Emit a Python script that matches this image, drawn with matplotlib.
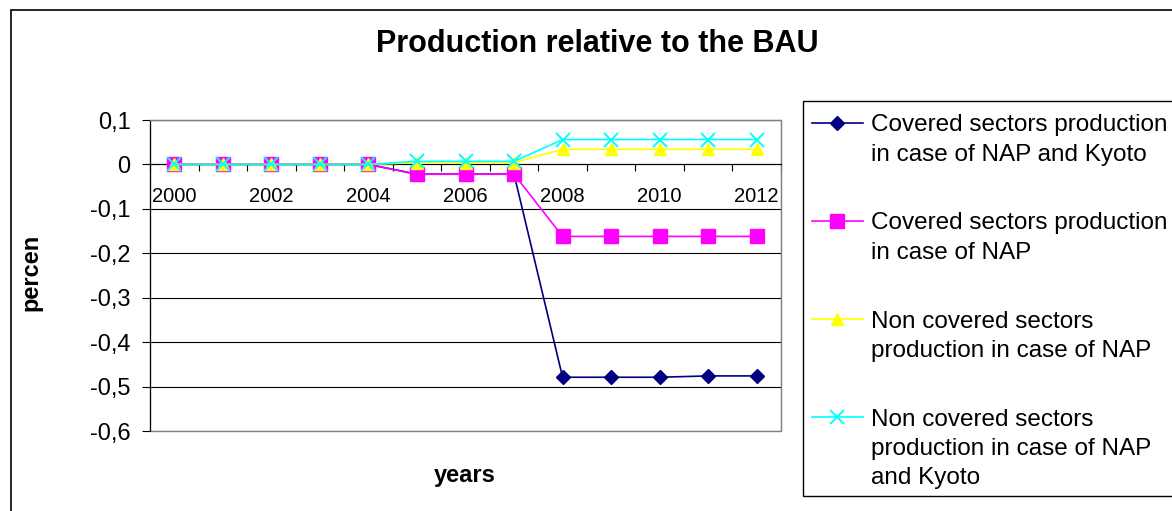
import matplotlib
matplotlib.use("Agg")
import matplotlib.pyplot as plt
from matplotlib.patches import Rectangle
from matplotlib.lines import Line2D
from matplotlib.ticker import FuncFormatter, MultipleLocator

plt.rcParams['font.family'] = ['Liberation Sans', 'DejaVu Sans']

years = list(range(2000, 2013))
covered_nap_kyoto = [0, 0, 0, 0, 0, -0.022, -0.022, -0.022, -0.479, -0.479, -0.479, -0.476, -0.476]
covered_nap = [0, 0, 0, 0, 0, -0.022, -0.022, -0.022, -0.162, -0.162, -0.162, -0.162, -0.162]
noncovered_nap = [0, 0, 0, 0, 0, 0.004, 0.004, 0.004, 0.034, 0.034, 0.034, 0.034, 0.034]
noncovered_nap_kyoto = [0, 0, 0, 0, 0, 0.007, 0.007, 0.007, 0.056, 0.056, 0.056, 0.056, 0.056]

labels = ["Covered sectors production\nin case of NAP and Kyoto",
          "Covered sectors production\nin case of NAP",
          "Non covered sectors\nproduction in case of NAP",
          "Non covered sectors\nproduction in case of NAP\nand Kyoto"]
series = [covered_nap_kyoto, covered_nap, noncovered_nap, noncovered_nap_kyoto]
styles = [dict(color='#000080', marker='D', ms=7, mfc='#000080', mec='#000080'),
          dict(color='#FF00FF', marker='s', ms=10, mfc='#FF00FF', mec='#FF00FF'),
          dict(color='#FFFF00', marker='^', ms=9, mfc='#FFFF00', mec='#FFFF00'),
          dict(color='#00FFFF', marker='x', ms=10, mew=1.4)]

W, H = 1172, 511
fig = plt.figure(figsize=(W / 100, H / 100), dpi=100)

def px(x, y):
    return x / W, 1 - y / H

l, t = px(150, 120)
r, b = px(781, 431)
ax = fig.add_axes([l, b, r - l, t - b])

x = list(range(len(years)))
for i, (vals, st) in enumerate(zip(series, styles)):
    ax.plot(x, vals, lw=1.2, zorder=3 + i, clip_on=False, **st)

ax.set_xlim(-0.5, len(years) - 0.5)
ax.set_ylim(-0.6, 0.1)
ax.yaxis.set_major_locator(MultipleLocator(0.1))
ax.yaxis.set_major_formatter(FuncFormatter(
    lambda v, p: "0" if abs(v) < 1e-9 else ("%.1f" % v).replace(".", ",")))
ax.tick_params(axis='y', direction='out', length=6, width=0.8, labelsize=17, pad=8)
ax.yaxis.grid(True, color='black', lw=0.8)
ax.set_axisbelow(True)

ax.set_xticks(x[::2])
ax.set_xticklabels([str(y) for y in years[::2]])
ax.set_xticks([v - 0.5 for v in range(len(years) + 1)], minor=True)
ax.tick_params(axis='x', which='major', length=0, labelsize=14.5, pad=16)
ax.tick_params(axis='x', which='minor', direction='out', length=5, width=0.8)

ax.spines['bottom'].set_position(('data', 0))
ax.spines['bottom'].set_color('black')
ax.spines['left'].set_color('black')
for s in ['top', 'right']:
    ax.spines[s].set_color('#808080')
ax.add_patch(Rectangle((0, 0), 1, 1, transform=ax.transAxes, fill=False,
                       ec='#808080', lw=1, zorder=2, clip_on=False))

fig.text(*px(597, 52), "Production relative to the BAU", ha='center', va='baseline',
         fontsize=22, fontweight='bold')
fig.text(*px(31, 272), "percen", ha='center', va='center', rotation=90,
         fontsize=17, fontweight='bold')
fig.text(*px(465, 482), "years", ha='center', va='baseline',
         fontsize=17, fontweight='bold')

# outer chart border
x0, y0 = px(11, 10)
fig.patches.append(Rectangle((x0, -0.1), 1.2, y0 + 0.1, transform=fig.transFigure,
                             fill=False, ec='black', lw=1.2))

# legend box, handle sits on the first text line like the spreadsheet
lx0, ly0 = px(803, 101)
lx1, ly1 = px(1190, 496)
fig.patches.append(Rectangle((lx0, ly1), lx1 - lx0, ly0 - ly1, transform=fig.transFigure,
                             fill=False, ec='black', lw=1))
for i, (lab, st) in enumerate(zip(labels, styles)):
    base = 131.5 + 98 * i
    yy = base - 8.5
    fig.lines.append(Line2D([812 / W, 863 / W], [1 - yy / H] * 2, transform=fig.transFigure,
                            color=st['color'], lw=1.2))
    mk = {k: v for k, v in st.items() if k != 'color'}
    fig.lines.append(Line2D([837 / W], [1 - yy / H], transform=fig.transFigure,
                            color=st['color'], **mk))
    for j, line in enumerate(lab.split("\n")):
        fig.text(*px(871, base + 29 * j), line, ha='left', va='baseline', fontsize=17.5)

fig.savefig("out.png", dpi=100)
